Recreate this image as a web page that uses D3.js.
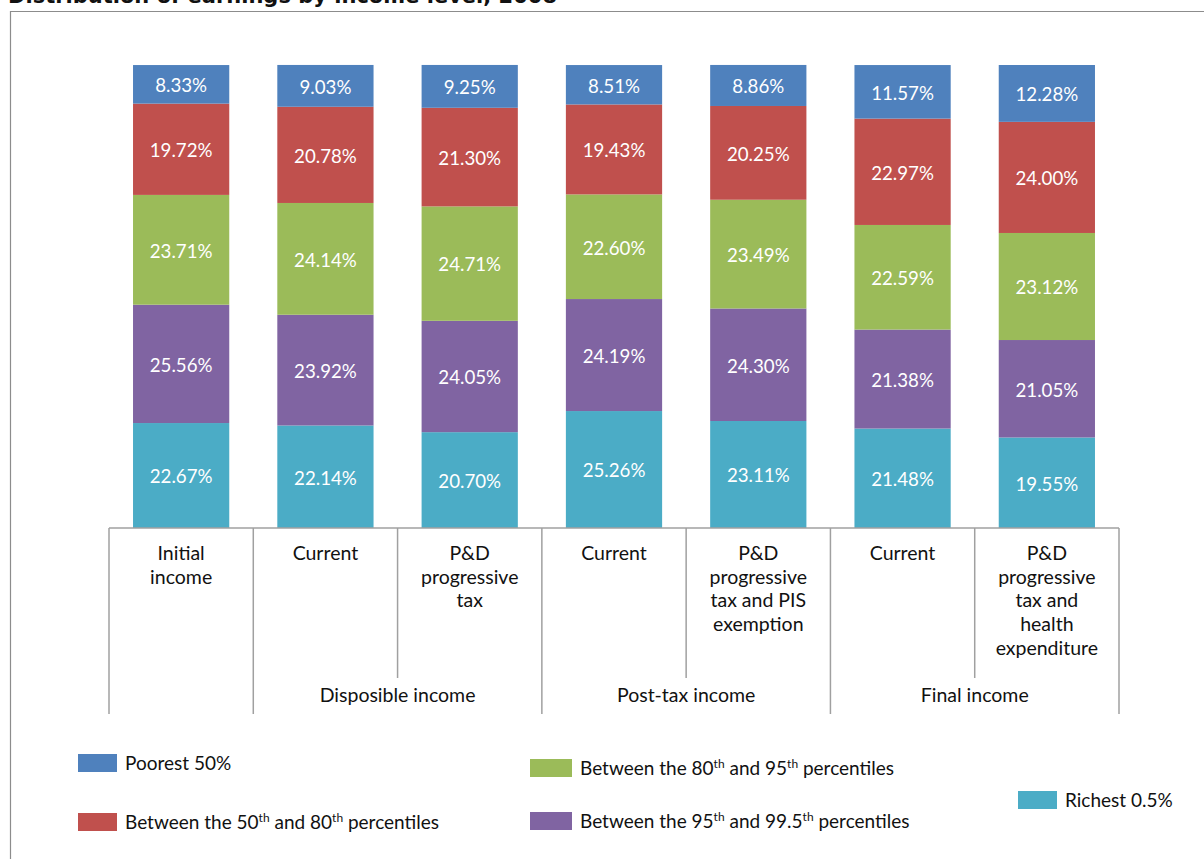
<!DOCTYPE html>
<html><head><meta charset="utf-8">
<script src="https://cdn.jsdelivr.net/npm/d3@7"></script>
<style>body{margin:0;background:#fff;} svg{display:block;}</style>
</head><body>
<svg id="chart" width="1204" height="859"></svg>
<script>
const categories = [
  ["Initial", "income"],
  ["Current"],
  ["P&D", "progressive", "tax"],
  ["Current"],
  ["P&D", "progressive", "tax and PIS", "exemption"],
  ["Current"],
  ["P&D", "progressive", "tax and", "health", "expenditure"]
];
const groups = [
  {label: "Disposible income", from: 1, to: 2},
  {label: "Post-tax income", from: 3, to: 4},
  {label: "Final income", from: 5, to: 6}
];
const seriesNames = ["Richest 0.5%", "Between the 95th and 99.5th percentiles", "Between the 80th and 95th percentiles", "Between the 50th and 80th percentiles", "Poorest 50%"];
const richest = [22.67, 22.14, 20.70, 25.26, 23.11, 21.48, 19.55];
const p95to995 = [25.56, 23.92, 24.05, 24.19, 24.30, 21.38, 21.05];
const p80to95 = [23.71, 24.14, 24.71, 22.60, 23.49, 22.59, 23.12];
const p50to80 = [19.72, 20.78, 21.30, 19.43, 20.25, 22.97, 24.00];
const poorest = [8.33, 9.03, 9.25, 8.51, 8.86, 11.57, 12.28];
const seriesValues = [richest, p95to995, p80to95, p50to80, poorest];
const colors = ["#4BACC6", "#8064A2", "#9BBB59", "#C0504D", "#4F81BD"];

const svg = d3.select("#chart");
const font = "Lato, 'Open Sans', sans-serif";

// title (cut off at top, as in the reference)
svg.append("text").attr("x", 8).attr("y", 3)
  .attr("font-family", "'DejaVu Sans', sans-serif").attr("font-weight", "bold")
  .attr("font-size", 21).attr("fill", "#111")
  .text("Distribution of earnings by income level, 2008");

// frame
svg.append("path").attr("d", "M10.5,859 L10.5,11.5 L1204,11.5")
  .attr("fill", "none").attr("stroke", "#8c8c8c").attr("stroke-width", 1.2);

const x = d3.scaleBand().domain(d3.range(categories.length)).range([109, 1119]).paddingInner(0.333).paddingOuter(0.1665);
const y = d3.scaleLinear().domain([0, 100]).range([528, 65]);

const stackData = categories.map((c, i) => {
  const o = {i};
  seriesValues.forEach((s, k) => o["s" + k] = s[i]);
  return o;
});
const stack = d3.stack().keys(seriesValues.map((s, k) => "s" + k))(stackData);

const g = svg.append("g");
stack.forEach((layer, k) => {
  const lg = g.append("g");
  lg.selectAll("rect").data(layer).join("rect")
    .attr("x", d => x(d.data.i))
    .attr("width", x.bandwidth())
    .attr("y", d => y(d[1]))
    .attr("height", d => y(d[0]) - y(d[1]))
    .attr("fill", colors[k]);
  lg.selectAll("text").data(layer).join("text")
    .attr("x", d => x(d.data.i) + x.bandwidth() / 2)
    .attr("y", d => (y(d[0]) + y(d[1])) / 2)
    .attr("dy", "0.42em")
    .attr("text-anchor", "middle")
    .attr("font-family", font).attr("font-size", 18.7).attr("fill", "#fff")
    .text(d => (d[1] - d[0]).toFixed(2) + "%");
});

// axis
const step = x.step();
const left = x.range()[0];
const axisColor = "#a0a0a0";
const axisG = svg.append("g").attr("stroke", axisColor).attr("stroke-width", 1.5);
axisG.append("line").attr("x1", left).attr("x2", x.range()[1]).attr("y1", 528).attr("y2", 528);
const boundaries = d3.range(categories.length + 1);
const fullBounds = new Set([0, 1]);
groups.forEach(gr => { fullBounds.add(gr.from); fullBounds.add(gr.to + 1); });
boundaries.forEach(b => {
  const bx = left + b * step;
  axisG.append("line").attr("x1", bx).attr("x2", bx).attr("y1", 528)
    .attr("y2", fullBounds.has(b) ? 714 : 678);
});

// category labels
categories.forEach((lines, i) => {
  const t = svg.append("text").attr("text-anchor", "middle")
    .attr("font-family", font).attr("font-size", 19.5).attr("fill", "#111");
  lines.forEach((l, j) => {
    t.append("tspan").attr("x", x(i) + x.bandwidth() / 2).attr("y", 560 + j * 23.7).text(l);
  });
});
groups.forEach(gr => {
  const cx = left + ((gr.from + gr.to + 1) / 2) * step;
  svg.append("text").attr("x", cx).attr("y", 702).attr("text-anchor", "middle")
    .attr("font-family", font).attr("font-size", 19.5).attr("fill", "#111").text(gr.label);
});

// legend
const legendPos = [
  {k: 4, sx: 78, sy: 754, sw: 39},
  {k: 3, sx: 78, sy: 813, sw: 39},
  {k: 2, sx: 530, sy: 759, sw: 42},
  {k: 1, sx: 530, sy: 812, sw: 42},
  {k: 0, sx: 1018, sy: 791, sw: 39}
];
const textX = {78: 125, 530: 580, 1018: 1065};
legendPos.forEach(p => {
  svg.append("rect").attr("x", p.sx).attr("y", p.sy).attr("width", p.sw).attr("height", 18).attr("fill", colors[p.k]);
  const t = svg.append("text").attr("x", textX[p.sx]).attr("y", p.sy + 16)
    .attr("font-family", font).attr("font-size", 19).attr("fill", "#111");
  const parts = seriesNames[p.k].split(/(\d+(?:\.\d+)?th)/);
  parts.forEach(part => {
    const m = part.match(/^(\d+(?:\.\d+)?)th$/);
    if (m) {
      t.append("tspan").text(m[1]);
      t.append("tspan").attr("font-size", 12).attr("baseline-shift", "super").text("th");
    } else if (part) {
      t.append("tspan").text(part);
    }
  });
});
</script>
</body></html>
